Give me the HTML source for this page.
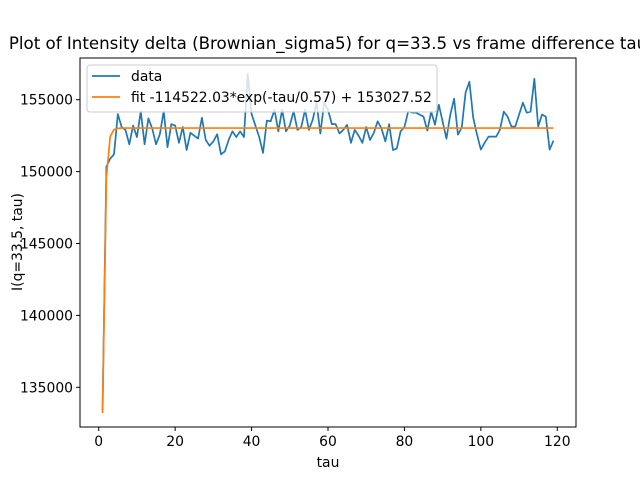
<!DOCTYPE html>
<html><head><meta charset="utf-8"><style>
html,body{margin:0;padding:0;background:#fff;}
svg{display:block;font-family:"DejaVu Sans","Liberation Sans",sans-serif;}
</style></head><body>
<svg id="chart" width="640" height="480" viewBox="0 0 640 480">
<rect width="640" height="480" fill="#fff"/>
<text x="328" y="49" font-size="16.67" text-anchor="middle">Plot of Intensity delta (Brownian_sigma5) for q=33.5 vs frame difference tau</text>
<g id="plot"></g>
<text x="328" y="467" font-size="13.9" text-anchor="middle">tau</text>
<text transform="translate(22,242) rotate(-90)" font-size="13.9" text-anchor="middle">I(q=33.5, tau)</text>
</svg>
<script>
const dataValues = [133400,150350,150900,151200,154000,153100,152900,151900,153200,152400,
154200,151900,153700,153000,151900,152600,154200,151700,153300,153200,
152000,153100,151500,152700,152500,152300,153750,152200,151800,152100,
152600,151200,151400,152200,152800,152400,152800,152400,156800,154000,
153200,152400,151300,153550,153500,154300,152800,154300,152800,153200,
154200,152900,153100,154300,152900,153600,154800,152650,154800,154300,
153300,153300,152650,152900,153250,152000,152900,152500,152000,153100,
152200,152700,153500,153000,152100,153300,151500,151600,152800,153100,
154200,154100,
154100,153960,153820,152850,154170,153260,154650,153470,152290,153960,
155070,152570,153060,155490,156250,153750,152570,151530,152010,152430,
152430,152430,152920,154170,153820,153130,153130,153960,154790,154100,
154170,156460,153130,153960,153820,151530,152150];
const fitParams = [-114522.03, 0.57, 153027.52];
const xTicks = [0,20,40,60,80,100,120];
const yTicks = [135000,140000,145000,150000,155000];
const legendLabels = ["data","fit -114522.03*exp(-tau/0.57) + 153027.52"];

const NS="http://www.w3.org/2000/svg";
const L=80,R=576,T=58,B=427;
const n=dataValues.length;
const xmin=1-(n-1)*0.05, xmax=n+(n-1)*0.05;
const xs=v=>L+(v-xmin)/(xmax-xmin)*(R-L);
const ys=v=>387.3-(v-135000)/20000*(387.3-99.7);
const plot=document.getElementById('plot');
function mk(tag,attrs,parent){const e=document.createElementNS(NS,tag);for(const k in attrs)e.setAttribute(k,attrs[k]);(parent||plot).appendChild(e);return e;}

let d="";
dataValues.forEach((v,i)=>{d+=(i?"L":"M")+xs(i+1).toFixed(2)+","+ys(v).toFixed(2);});
const dl=mk('path',{d:d,fill:'none',stroke:'#1f77b4','stroke-width':1.7,'stroke-linejoin':'round'});


let f="";
for(let t=1;t<=n;t++){const v=fitParams[0]*Math.exp(-t/fitParams[1])+fitParams[2];f+=(t>1?"L":"M")+xs(t).toFixed(2)+","+ys(v).toFixed(2);}
const fl=mk('path',{d:f,fill:'none',stroke:'#ff7f0e','stroke-width':1.7,'stroke-linejoin':'round'});



const fr=mk('rect',{x:L,y:T,width:R-L,height:B-T,fill:'none',stroke:'#000','stroke-width':1});


xTicks.forEach(t=>{const x=xs(t);
 const tk=mk('line',{x1:x,x2:x,y1:B,y2:B+4,stroke:'#000'});
 
 
 const lb=mk('text',{x:x,y:B+19,'font-size':13.9,'text-anchor':'middle'});lb.textContent=t;
 
 });
yTicks.forEach(t=>{const y=ys(t);
 const tk=mk('line',{x1:L-4,x2:L,y1:y,y2:y,stroke:'#000'});
 
 
 const lb=mk('text',{x:L-7,y:y+5,'font-size':13.9,'text-anchor':'end'});lb.textContent=t;
 
 });

const lg=mk('g',{});


mk('rect',{x:87,y:65,width:350,height:47,rx:3,fill:'#fff','fill-opacity':0.8,stroke:'#ccc'},lg);
const cols=['#1f77b4','#ff7f0e'];
legendLabels.forEach((s,i)=>{const y=76+i*21;
 const ln=mk('line',{x1:92,x2:120,y1:y,y2:y,stroke:cols[i],'stroke-width':1.7},lg);
 
 
 const tx=mk('text',{x:131,y:y+5,'font-size':13.9},lg);tx.textContent=s;
 
 });
</script>
</body></html>
